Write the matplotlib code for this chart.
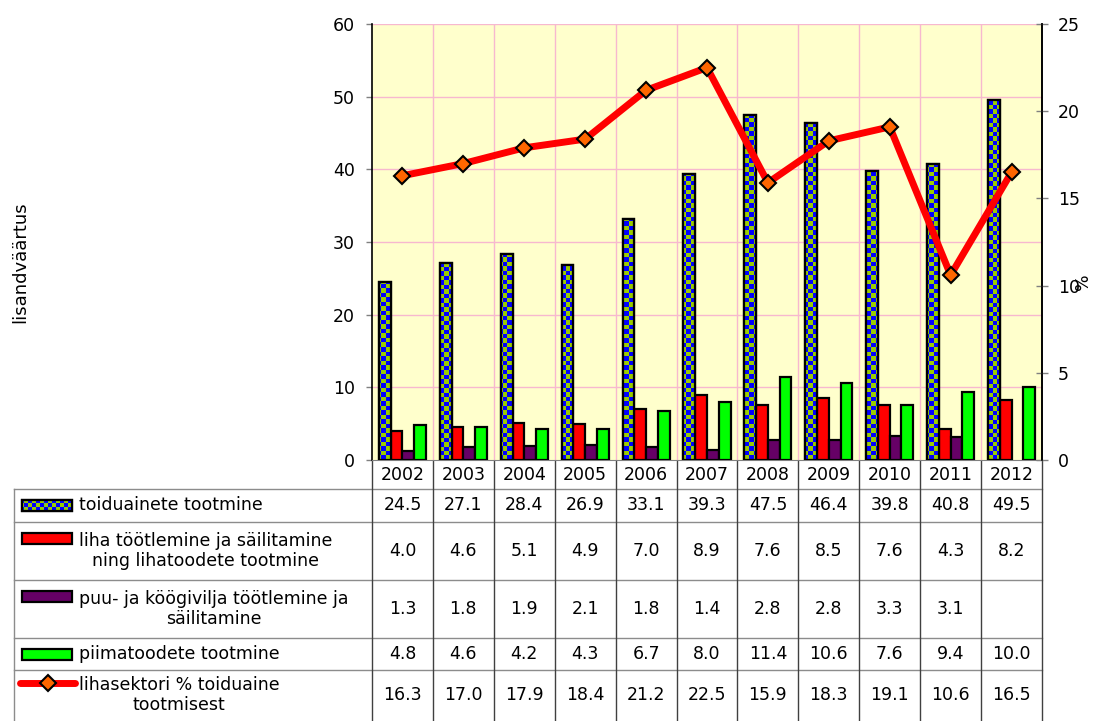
import matplotlib
matplotlib.use('Agg')
import matplotlib.pyplot as plt
from matplotlib.colors import ListedColormap
from matplotlib.patches import Rectangle
import numpy as np

plt.rcParams['font.family'] = ['DejaVu Sans']

# andmed
years = ['2002', '2003', '2004', '2005', '2006', '2007', '2008', '2009', '2010', '2011', '2012']
toiduained = [24.5, 27.1, 28.4, 26.9, 33.1, 39.3, 47.5, 46.4, 39.8, 40.8, 49.5]
liha = [4.0, 4.6, 5.1, 4.9, 7.0, 8.9, 7.6, 8.5, 7.6, 4.3, 8.2]
puu = [1.3, 1.8, 1.9, 2.1, 1.8, 1.4, 2.8, 2.8, 3.3, 3.1, np.nan]
piim = [4.8, 4.6, 4.2, 4.3, 6.7, 8.0, 11.4, 10.6, 7.6, 9.4, 10.0]
liha_pct = [16.3, 17.0, 17.9, 18.4, 21.2, 22.5, 15.9, 18.3, 19.1, 10.6, 16.5]

labels = ['toiduainete tootmine',
          'liha töötlemine ja säilitamine\nning lihatoodete tootmine',
          'puu- ja köögivilja töötlemine ja\nsäilitamine',
          'piimatoodete tootmine',
          'lihasektori % toiduaine\ntootmisest']

W, H = 1096, 721
fig = plt.figure(figsize=(W / 100, H / 100), dpi=100)

ax_l, ax_r, ax_t, ax_b = 372, 1042, 24, 460
ax = fig.add_axes([ax_l / W, 1 - ax_b / H, (ax_r - ax_l) / W, (ax_b - ax_t) / H])
ax.set_facecolor('#FFFFCC')

checker_cmap = ListedColormap(['#0000FF', '#99CC00'])
n = len(years)
x = np.arange(n)
bw = 0.193
fs = 12.5

# tulbad
series = [toiduained, liha, puu, piim]
colors = ['#0000FF', '#FF0000', '#660066', '#00FF00']
bar_sets = []
for k, (vals, c) in enumerate(zip(series, colors)):
    bars = ax.bar(x + (k - 1.5) * bw, vals, bw, color=c, edgecolor='black',
                  linewidth=1.6, zorder=3)
    bar_sets.append(bars)

# ruuduline muster esimesele seeriale
ny, nx = 97, 149
cb = (np.indices((ny, nx)).sum(axis=0) % 2)
for b in bar_sets[0]:
    im = ax.imshow(cb, cmap=checker_cmap, extent=(-0.5, n - 0.5, 0, 60),
                   aspect='auto', interpolation='nearest', zorder=3.5)
    im.set_clip_path(b)
ax.bar(x - 1.5 * bw, toiduained, bw, fill=False, edgecolor='black',
       linewidth=1.6, zorder=4)

ax.set_xlim(-0.5, n - 0.5)
ax.set_ylim(0, 60)
ax.set_yticks(range(0, 61, 10))
ax.set_xticks([])
for yv in range(10, 61, 10):
    ax.axhline(yv, color='#F7B8CF', lw=1, zorder=1)
for xv in np.arange(0.5, n - 0.5, 1):
    ax.axvline(xv, color='#F7B8CF', lw=1, zorder=1)
ax.tick_params(axis='y', direction='out', length=4.5, width=1, color='#808080',
               labelsize=fs, pad=8)
ax.spines['top'].set_visible(False)
ax.spines['bottom'].set_color('#808080')
ax.spines['left'].set_linewidth(1.2)
ax.spines['right'].set_linewidth(1.2)

# joon parempoolsel teljel
ax2 = ax.twinx()
ax2.plot(x, liha_pct, color='#FF0000', lw=5, marker='D', markersize=8,
         markerfacecolor='#FF6600', markeredgecolor='black', markeredgewidth=1.5,
         zorder=5)
ax2.set_ylim(0, 25)
ax2.set_yticks(range(0, 26, 5))
ax2.tick_params(axis='y', direction='inout', length=9, width=1, color='#808080',
                labelsize=fs, pad=7)
for s in ['top', 'bottom', 'left']:
    ax2.spines[s].set_visible(False)
ax2.spines['right'].set_linewidth(1.2)

fig.text(20 / W, 1 - 262 / H, 'lisandväärtus', rotation=90, ha='center',
         va='center', fontsize=13)
fig.text(1083 / W, 1 - 282 / H, '%', rotation=90, ha='center', va='center',
         fontsize=fs)

# andmetabel
tab = fig.add_axes([0, 0, 1, 1], zorder=-1)
tab.axis('off')
col_w = (ax_r - ax_l) / n
row_lines = [489, 522, 580, 638, 670]
row_centers = [505, 551, 609, 654, 695]
first_line = [505, 538, 596, 654, 683]

for yl in row_lines:
    tab.plot([14, ax_r], [yl, yl], color='#8C8C8C', lw=1)
tab.plot([14, 14], [row_lines[0], H], color='#8C8C8C', lw=1)
for k in range(n + 1):
    tab.plot([ax_l + k * col_w] * 2, [ax_b, H], color='#404040', lw=1)

for i, yr in enumerate(years):
    tab.text(ax_l + (i + 0.5) * col_w, 475, yr, ha='center', va='center', fontsize=fs)

table_rows = [toiduained, liha, puu, piim, liha_pct]
for r, vals in enumerate(table_rows):
    for i, v in enumerate(vals):
        if not np.isnan(v):
            tab.text(ax_l + (i + 0.5) * col_w, row_centers[r], f'{v:.1f}',
                     ha='center', va='center', fontsize=fs)
    tab.text(79, row_centers[r], labels[r], ha='left', va='center',
             multialignment='center', fontsize=fs, linespacing=1.15)

# legendivõtmed
keys = []
for r in range(4):
    rect = Rectangle((22, first_line[r] - 5.5), 50, 11, facecolor=colors[r],
                     edgecolor='black', lw=1.6)
    tab.add_patch(rect)
    keys.append(rect)
cbt = (np.indices((H // 4 + 1, W // 4 + 1)).sum(axis=0) % 2)
im = tab.imshow(cbt, cmap=checker_cmap, extent=(0, (W // 4 + 1) * 4, (H // 4 + 1) * 4, 0),
                aspect='auto', interpolation='nearest', zorder=2)
im.set_clip_path(keys[0])
tab.add_patch(Rectangle((22, first_line[0] - 5.5), 50, 11, fill=False,
                        edgecolor='black', lw=1.6, zorder=3))
tab.plot([20, 48, 75], [first_line[4]] * 3, color='#FF0000', lw=5,
         solid_capstyle='round', marker='D', markevery=[1], markersize=8,
         markerfacecolor='#FF6600', markeredgecolor='black', markeredgewidth=1.5)

tab.set_xlim(0, W)
tab.set_ylim(H, 0)

fig.savefig('out.png', dpi=100)
